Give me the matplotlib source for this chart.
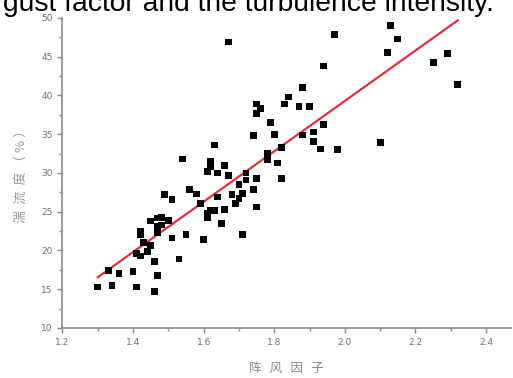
import numpy as np
import matplotlib
matplotlib.use("Agg")
import matplotlib.pyplot as plt
from matplotlib.ticker import MultipleLocator, FormatStrFormatter

# gust factor (x) vs turbulence intensity in % (y)
gust_factor = [
    1.30, 1.34, 1.36, 1.33, 1.40, 1.41, 1.46, 1.47, 1.46, 1.42,
    1.44, 1.45, 1.41, 1.53, 1.42, 1.42, 1.45, 1.47, 1.48, 1.50,
    1.51, 1.43, 1.47, 1.55, 1.60, 1.49, 1.51, 1.56, 1.58, 1.59,
    1.64, 1.61, 1.63, 1.65, 1.66, 1.68, 1.69, 1.70, 1.71, 1.74,
    1.75, 1.71, 1.72, 1.70, 1.67, 1.54, 1.63, 1.62, 1.62, 1.61,
    1.64, 1.66, 1.67, 1.72, 1.75, 1.75, 1.76, 1.75, 1.79, 1.74,
    1.80, 1.82, 1.78, 1.78, 1.81, 1.82, 1.83, 1.84, 1.87, 1.88,
    1.90, 1.94, 1.88, 1.91, 1.91, 1.93, 1.98, 2.10, 1.94, 1.97,
    2.13, 2.15, 2.12, 2.25, 2.29, 2.32, 1.62, 1.61, 1.47, 1.48,
]
turbulence = [
    15.3, 15.5, 17.0, 17.4, 17.3, 15.3, 14.7, 16.8, 18.6, 19.3,
    19.9, 20.6, 19.6, 18.9, 22.5, 22.0, 23.8, 23.1, 24.3, 23.9,
    21.6, 21.0, 22.3, 22.1, 21.4, 27.2, 26.6, 27.9, 27.3, 26.1,
    26.9, 24.8, 25.2, 23.5, 25.3, 27.2, 26.1, 26.7, 27.4, 27.9,
    25.6, 22.1, 29.1, 28.5, 46.9, 31.8, 33.6, 31.5, 30.8, 30.2,
    30.0, 31.0, 29.7, 30.0, 29.3, 38.9, 38.3, 37.7, 36.5, 34.8,
    35.0, 33.3, 32.5, 31.7, 31.3, 29.3, 38.9, 39.8, 38.6, 41.0,
    38.6, 36.3, 34.9, 35.3, 34.1, 33.1, 33.0, 33.9, 43.8, 47.9,
    49.0, 47.3, 45.5, 44.3, 45.4, 41.4, 25.2, 24.2, 24.2, 23.3,
]

# fitted regression line
fit_slope = 32.5
fit_intercept = -25.7
fit_range = [1.30, 2.32]

gray = "#8a8a8a"

fig = plt.figure(figsize=(5.13, 3.78), dpi=100)
ax = fig.add_axes([0.1218, 0.1323, 0.8739, 0.8201])

ax.scatter(gust_factor, turbulence, marker="s", s=24, color="black",
           edgecolors="none", zorder=3)
xs = np.array(fit_range)
ax.plot(xs, fit_slope * xs + fit_intercept, color="#e03040", lw=1.6, zorder=2)

ax.set_xlim(1.2, 2.47)
ax.set_ylim(10, 50)
ax.xaxis.set_major_locator(MultipleLocator(0.2))
ax.xaxis.set_minor_locator(MultipleLocator(0.1))
ax.yaxis.set_major_locator(MultipleLocator(5))
ax.yaxis.set_minor_locator(MultipleLocator(2.5))
ax.xaxis.set_major_formatter(FormatStrFormatter("%.1f"))

for side in ("top", "right"):
    ax.spines[side].set_visible(False)
for side in ("left", "bottom"):
    ax.spines[side].set_color(gray)
    ax.spines[side].set_linewidth(1.2)

ax.tick_params(which="major", direction="out", length=3.5, width=1,
               color=gray, labelcolor="#707070", labelsize=6.5)
ax.tick_params(which="minor", direction="out", length=2, width=1, color=gray)

cjk = ["Noto Sans CJK SC", "DejaVu Sans"]
ax.set_ylabel("湍  流  度 （ % ）", family=cjk, color="#9a9a9a", fontsize=9.5,
              labelpad=10)
ax.set_xlabel("阵   风   因   子", family=cjk, color="#8a8a8a", fontsize=9,
              labelpad=11)

# caption line from the page above, clipped by the top edge
fig.text(3 / 513, 1 - 11 / 378, "gust factor and the turbulence intensity.",
         family="Liberation Sans", fontsize=20.3, color="black", va="baseline")

fig.savefig("out.png", dpi=100)
